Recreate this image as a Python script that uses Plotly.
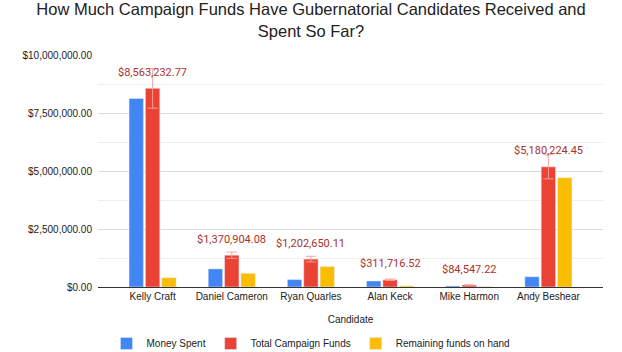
import plotly.graph_objects as go

candidates = ["Kelly Craft", "Daniel Cameron", "Ryan Quarles", "Alan Keck", "Mike Harmon", "Andy Beshear"]
money_spent = [8130000, 780000, 320000, 260000, 45000, 440000]
total_funds = [8563232.77, 1370904.08, 1202650.11, 311716.52, 84547.22, 5180224.45]
remaining = [400000, 590000, 880000, 50000, 20000, 4710000]
total_labels = ["$8,563,232.77", "$1,370,904.08", "$1,202,650.11", "$311,716.52", "$84,547.22", "$5,180,224.45"]

BLUE = "#4285F4"
RED = "#EA4335"
YELLOW = "#FBBC04"
FONT = "Liberation Sans, Arial, sans-serif"

fig = go.Figure()
fig.add_trace(go.Bar(name="Money Spent", x=candidates, y=money_spent, marker_color=BLUE))
fig.add_trace(go.Bar(name="Total Campaign Funds", x=candidates, y=total_funds, marker_color=RED,
                     error_y=dict(type="percent", value=10, color="rgba(245,160,155,0.95)",
                                  thickness=1, width=5)))
fig.add_trace(go.Bar(name="Remaining funds on hand", x=candidates, y=remaining, marker_color=YELLOW))

for c, v, t in zip(candidates, total_funds, total_labels):
    fig.add_annotation(x=c, y=v, text=t, showarrow=False, xshift=0, yshift=16,
                       font=dict(family="Roboto, sans-serif", size=11, color="#a8322c"))

fig.update_layout(
    width=622, height=352,
    margin=dict(l=98, r=19, t=55, b=65, autoexpand=False),
    paper_bgcolor="white", plot_bgcolor="white",
    barmode="group", bargap=0.38, bargroupgap=0.12,
    title=dict(text="How Much Campaign Funds Have Gubernatorial Candidates Received and<br>Spent So Far?",
               x=0.5, xanchor="center", yref="container", y=0.957, yanchor="middle",
               font=dict(family=FONT, size=16.5, color="#222222")),
    font=dict(family=FONT, size=10, color="#333333"),
    showlegend=True,
    legend=dict(orientation="h", x=0.5, xanchor="center", xref="container",
                yref="container", y=0.024, yanchor="middle",
                font=dict(family=FONT, size=10, color="#222222"), itemwidth=30,
                traceorder="normal"),
)
fig.update_xaxes(range=[-0.69, 5.69], showline=True, linecolor="#333333", linewidth=1,
                 ticks="", automargin=False,
                 tickfont=dict(family=FONT, size=10, color="#222222"),
                 title=dict(text="Candidate", font=dict(family=FONT, size=10, color="#222222"), standoff=14))
fig.update_yaxes(range=[0, 10000000], dtick=2500000, tickprefix="$", tickformat=",.2f",
                 gridcolor="#dcdcdc", zeroline=False, automargin=False,
                 minor=dict(dtick=1250000, showgrid=True, gridcolor="#eeeeee"),
                 tickfont=dict(family=FONT, size=10, color="#222222"), ticklabelstandoff=5)

fig.write_html("out.html")
